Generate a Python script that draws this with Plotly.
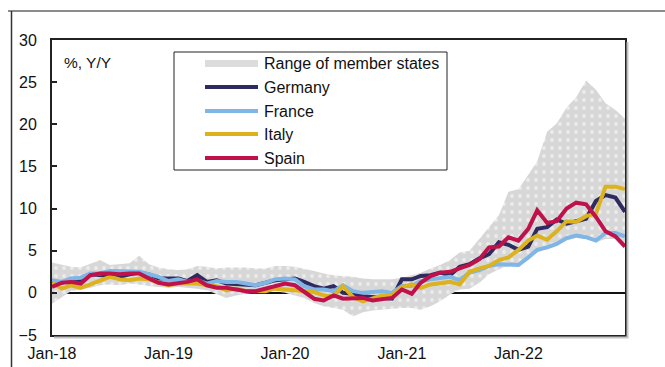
import pandas as pd
import plotly.graph_objects as go

# Monthly HICP inflation, % y/y, Jan 2018 - Dec 2022
months = pd.date_range("2018-01-01", periods=60, freq="MS")

germany = [1.4, 1.2, 1.5, 1.4, 2.2, 2.1, 2.1, 1.9, 2.2, 2.4, 2.2, 1.7,
           1.7, 1.7, 1.4, 2.1, 1.3, 1.5, 1.1, 1.0, 0.9, 0.9, 1.2, 1.5,
           1.6, 1.7, 1.3, 0.8, 0.5, 0.8, 0.0, -0.1, -0.4, -0.5, -0.7, -0.7,
           1.6, 1.6, 2.0, 2.1, 2.4, 2.1, 3.1, 3.4, 4.1, 4.6, 6.0, 5.7,
           5.1, 5.5, 7.6, 7.8, 8.7, 8.2, 8.5, 8.8, 10.9, 11.6, 11.3, 9.6]

france = [1.5, 1.3, 1.7, 1.8, 2.3, 2.3, 2.6, 2.6, 2.5, 2.5, 2.2, 1.9,
          1.4, 1.6, 1.3, 1.5, 1.1, 1.4, 1.3, 1.3, 1.1, 0.9, 1.2, 1.6,
          1.7, 1.6, 0.8, 0.4, 0.4, 0.2, 0.9, 0.2, 0.0, 0.1, 0.2, 0.0,
          0.8, 0.8, 1.4, 1.6, 1.8, 1.9, 1.5, 2.4, 2.7, 3.2, 3.4, 3.4,
          3.3, 4.2, 5.1, 5.4, 5.8, 6.5, 6.8, 6.6, 6.2, 7.1, 7.1, 6.7]

italy = [1.2, 0.5, 0.9, 0.6, 1.0, 1.4, 1.9, 1.6, 1.5, 1.7, 1.6, 1.2,
         0.9, 1.1, 1.1, 1.1, 0.9, 0.8, 0.3, 0.5, 0.2, 0.2, 0.2, 0.5,
         0.4, 0.2, 0.1, 0.1, -0.3, -0.4, 0.8, -0.5, -1.0, -0.6, -0.3, -0.3,
         0.7, 1.0, 0.6, 1.0, 1.2, 1.3, 1.0, 2.5, 2.9, 3.2, 3.9, 4.2,
         5.1, 6.2, 6.8, 6.3, 7.3, 8.5, 8.4, 9.1, 9.4, 12.6, 12.6, 12.3]

spain = [0.7, 1.2, 1.3, 1.1, 2.1, 2.3, 2.3, 2.2, 2.3, 2.3, 1.7, 1.2,
         1.0, 1.1, 1.3, 1.6, 0.9, 0.6, 0.6, 0.4, 0.2, 0.2, 0.5, 0.8,
         1.1, 0.9, 0.1, -0.7, -0.9, -0.3, -0.7, -0.6, -0.6, -0.9, -0.8, -0.6,
         0.4, -0.1, 1.2, 2.0, 2.4, 2.5, 2.9, 3.3, 4.0, 5.4, 5.5, 6.6,
         6.2, 7.6, 9.8, 8.3, 8.5, 10.0, 10.7, 10.5, 9.0, 7.3, 6.7, 5.5]

# Highest and lowest rate among euro area member states
range_high = [3.6, 3.3, 3.1, 3.0, 3.4, 3.9, 3.3, 3.4, 3.5, 4.4, 3.4, 3.0,
              2.8, 2.7, 2.8, 3.2, 3.1, 2.9, 3.0, 3.0, 3.0, 2.9, 2.9, 3.2,
              3.2, 3.1, 2.9, 2.6, 2.3, 2.1, 2.0, 1.9, 1.7, 1.6, 1.6, 1.6,
              1.8, 2.1, 2.4, 2.9, 3.3, 3.9, 4.8, 5.0, 6.4, 7.8, 9.2, 12.0,
              12.3, 14.0, 15.6, 19.1, 20.1, 22.0, 23.2, 25.2, 24.1, 22.5, 21.7, 20.7]

range_low = [-1.3, -0.5, 0.2, 0.4, 0.6, 0.9, 1.0, 0.9, 1.1, 1.0, 0.8, 0.7,
             0.6, 0.7, 0.6, 0.5, 0.3, -0.2, -0.6, -0.3, -0.1, 0.1, 0.3, 0.2,
             0.0, -0.3, -0.6, -1.2, -1.6, -1.8, -2.0, -2.8, -2.3, -2.1, -2.0, -1.9,
             -1.8, -1.8, -2.0, -1.6, -1.0, -0.2, 0.4, 0.5, 1.2, 2.2, 2.8, 3.2,
             3.2, 4.0, 4.8, 5.2, 5.6, 6.2, 6.5, 6.4, 6.0, 6.4, 6.4, 5.4]

tick_dates = ["2018-01-01", "2019-01-01", "2020-01-01", "2021-01-01", "2022-01-01"]
tick_labels = ["Jan-18", "Jan-19", "Jan-20", "Jan-21", "Jan-22"]

series = [("Germany", germany, "#2f2a5f"),
          ("France", france, "#7fb6e6"),
          ("Italy", italy, "#dcb21e"),
          ("Spain", spain, "#c0124a")]

FONT = "Liberation Sans, Arial, sans-serif"
W, H = 665, 367
L, R, T, B = 52, 40, 40, 32
PW, PH = W - L - R, H - T - B


def px(xp):
    return (xp - L) / PW


def py(yp):
    return (H - B - yp) / PH


fig = go.Figure()

fig.add_trace(go.Scatter(x=months, y=range_low, mode="lines", line=dict(width=0),
                         showlegend=False, hoverinfo="skip"))
fig.add_trace(go.Scatter(x=months, y=range_high, mode="lines", line=dict(width=0),
                         fill="tonexty", fillcolor="#d7d7d7",
                         fillpattern=dict(shape=".", bgcolor="#d7d7d7", fgcolor="#ffffff",
                                          size=8, solidity=0.18),
                         name="Range of member states", showlegend=False))

for name, vals, color in series:
    fig.add_trace(go.Scatter(x=months, y=vals, mode="lines", name=name,
                             line=dict(color=color, width=4), showlegend=False))

shapes = []
annotations = []

# Outer frame
shapes.append(dict(type="line", xref="paper", yref="paper",
                   x0=px(8), x1=px(720), y0=py(11), y1=py(11),
                   line=dict(color="#8c8c8c", width=2)))
shapes.append(dict(type="line", xref="paper", yref="paper",
                   x0=px(11.5), x1=px(11.5), y0=py(11), y1=py(420),
                   line=dict(color="#333333", width=1.5)))

# Soft shadow along the plot box
shapes.append(dict(type="line", xref="paper", yref="paper",
                   x0=px(627.5), x1=px(627.5), y0=py(42), y1=py(337.5),
                   line=dict(color="#c4c4c4", width=2)))
shapes.append(dict(type="line", xref="paper", yref="paper",
                   x0=px(54), x1=px(628.5), y0=py(337.5), y1=py(337.5),
                   line=dict(color="#c4c4c4", width=2)))

# Legend box
shapes.append(dict(type="rect", xref="paper", yref="paper",
                   x0=px(174), x1=px(447), y0=py(170), y1=py(52),
                   line=dict(color="#222222", width=1), fillcolor="white"))

legend_rows = [63, 87, 111, 134, 158]
shapes.append(dict(type="rect", xref="paper", yref="paper",
                   x0=px(205), x1=px(258), y0=py(67), y1=py(60),
                   line=dict(width=0), fillcolor="#dcdcdc"))
annotations.append(dict(xref="paper", yref="paper", x=px(262), y=py(legend_rows[0]),
                        text="Range of member states", showarrow=False,
                        xanchor="left", yanchor="middle",
                        font=dict(family=FONT, size=16, color="#111111")))
for (name, vals, color), row in zip(series, legend_rows[1:]):
    shapes.append(dict(type="line", xref="paper", yref="paper",
                       x0=px(205), x1=px(258), y0=py(row), y1=py(row),
                       line=dict(color=color, width=4)))
    annotations.append(dict(xref="paper", yref="paper", x=px(262), y=py(row),
                            text=name, showarrow=False, xanchor="left", yanchor="middle",
                            font=dict(family=FONT, size=16, color="#111111")))

annotations.append(dict(xref="paper", yref="paper", x=px(62), y=py(62),
                        text="%, Y/Y", showarrow=False, xanchor="left", yanchor="middle",
                        font=dict(family=FONT, size=15.5, color="#111111")))

fig.update_layout(
    width=W, height=H,
    margin=dict(l=L, r=R, t=T, b=B, pad=0, autoexpand=False),
    paper_bgcolor="white", plot_bgcolor="white",
    font=dict(family=FONT, size=16, color="#111111"),
    showlegend=False,
    shapes=shapes, annotations=annotations,
    xaxis=dict(type="date", range=["2018-01-01", "2022-12-01"],
               tickvals=tick_dates, ticktext=tick_labels, ticks="",
               showgrid=False, zeroline=False, automargin=False,
               showline=True, mirror=True, linecolor="#222222", linewidth=2,
               tickfont=dict(size=16), ticklabelstandoff=3),
    yaxis=dict(range=[-5, 30], dtick=5, tick0=0, ticks="inside", ticklen=5,
               tickcolor="#222222", tickwidth=1.5, automargin=False,
               showgrid=False, zeroline=True, zerolinecolor="#111111", zerolinewidth=1.5,
               showline=True, mirror=True, linecolor="#222222", linewidth=2,
               tickfont=dict(size=16), ticklabelstandoff=10),
)

fig.write_html("out.html")
